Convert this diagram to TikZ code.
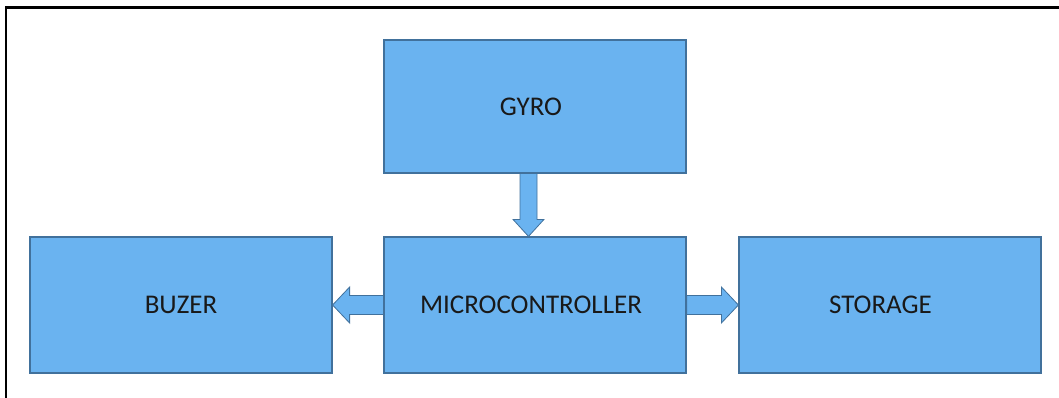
\documentclass[tikz,border=0pt]{standalone}
\usepackage{fontspec}
\setmainfont{Carlito}
\usetikzlibrary{calc}
\definecolor{boxfill}{RGB}{106,179,240}
\definecolor{boxline}{RGB}{65,113,156}
\begin{document}
\begin{tikzpicture}[x=1pt,y=-1pt,
  blk/.style={draw=boxline, fill=boxfill, line width=1.2pt, minimum width=302pt,
    minimum height=136pt, inner sep=0pt, text=black!90, font=\fontsize{27}{30}\selectfont},
  barrow/.style={draw=boxline, fill=boxfill, line width=0.8pt, line join=miter}]
\useasboundingbox (0,0) rectangle (1059,398);
\draw[line width=2.2pt] (6,398) -- (6,7.5) -- (1059,7.5);
% boxes
\node[blk, minimum height=133pt] (gyro) at (535,106.5) {GYRO\kern8pt};
\node[blk] (micro) at (535,305) {MICROCONTROLLER\kern8pt};
\node[blk] (buzer) at (181,305) {BUZER};
\node[blk] (stor) at (890,305) {STORAGE\kern19pt};
% anchor points for arrows
\coordinate (ds) at ($(gyro.south)+(-6.5,0)$);
\coordinate (de) at ($(micro.north)+(-6.5,0)$);
% down arrow
\draw[barrow] ([shift={(-8.5,0)}]ds) -- ([shift={(8.5,0)}]ds) -- ([shift={(8.5,-17)}]de)
  -- ([shift={(15.5,-17)}]de) -- (de) -- ([shift={(-15.5,-17)}]de) -- ([shift={(-8.5,-17)}]de) -- cycle;
% left arrow
\draw[barrow] ([shift={(0,-9.5)}]micro.west) -- ([shift={(17,-9.5)}]buzer.east) -- ([shift={(17,-18)}]buzer.east)
  -- (buzer.east) -- ([shift={(17,18)}]buzer.east) -- ([shift={(17,9.5)}]buzer.east) -- ([shift={(0,9.5)}]micro.west) -- cycle;
% right arrow
\draw[barrow] ([shift={(0,-9.5)}]micro.east) -- ([shift={(-17,-9.5)}]stor.west) -- ([shift={(-17,-18)}]stor.west)
  -- (stor.west) -- ([shift={(-17,18)}]stor.west) -- ([shift={(-17,9.5)}]stor.west) -- ([shift={(0,9.5)}]micro.east) -- cycle;
\end{tikzpicture}
\end{document}
